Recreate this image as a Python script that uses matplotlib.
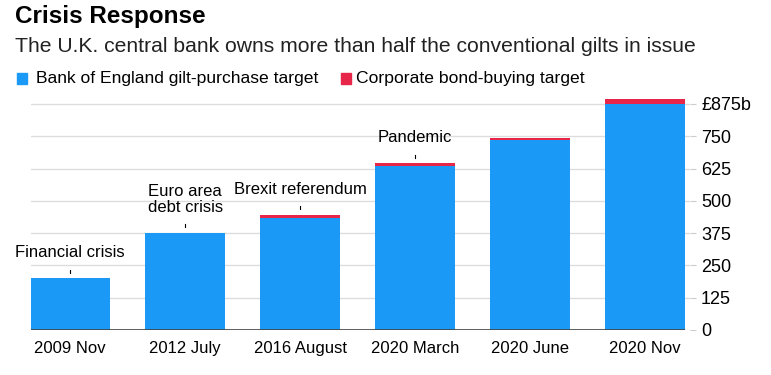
import matplotlib
matplotlib.use("Agg")
import matplotlib.pyplot as plt
import numpy as np

plt.rcParams["font.family"] = ["Liberation Sans", "DejaVu Sans"]

# data (billions of pounds)
dates = ["2009 Nov", "2012 July", "2016 August", "2020 March", "2020 June", "2020 Nov"]
gilt = [200, 375, 435, 635, 735, 875]
corp = [0, 0, 10, 10, 10, 20]
events = ["Financial crisis", "Euro area\ndebt crisis", "Brexit referendum", "Pandemic", None, None]
yticks = [0, 125, 250, 375, 500, 625, 750, 875]
ytick_labels = ["0", "125", "250", "375", "500", "625", "750", "£875b"]

BLUE = "#1a9af6"
RED = "#e8264a"

fig = plt.figure(figsize=(7.71, 3.75), dpi=100)
ax = fig.add_axes([31 / 771, 45 / 375, 659 / 771, 233 / 375])

x = np.arange(len(dates))
w = 0.7
ax.bar(x, gilt, width=w, color=BLUE, zorder=2)
ax.bar(x, corp, width=w, bottom=gilt, color=RED, zorder=2)

totals = np.array(gilt) + np.array(corp)
for xi, tot, ev in zip(x, totals, events):
    if ev is None:
        continue
    ax.plot([xi, xi], [tot + 22, tot + 34], color="black", lw=0.8, zorder=3)
    ax.annotate(ev, xy=(xi, tot), xytext=(0, 13), textcoords="offset points",
                ha="center", va="bottom", fontsize=12, linespacing=1.1)

ax.hlines(0, x[0] - w / 2, x[-1] + w / 2, color="#444444", lw=1.2, zorder=3)

ax.set_xlim(-0.34, len(dates) - 1 + 0.39)
ax.set_ylim(0, 902)
ax.set_xticks(x)
ax.set_xticklabels(dates, fontsize=12)
ax.tick_params(axis="x", length=0, pad=8)

ax.yaxis.tick_right()
ax.set_yticks(yticks)
ax.set_yticklabels(ytick_labels, fontsize=13)
ax.tick_params(axis="y", length=4, color="#cccccc", pad=4)
ax.grid(axis="y", color="#dddddd", lw=1, zorder=0)
for s in ax.spines.values():
    s.set_visible(False)

fig.text(15 / 771, 1 - 17 / 375, "Crisis Response", fontsize=17.5, fontweight="bold", va="center")
fig.text(15 / 771, 1 - 47 / 375, "The U.K. central bank owns more than half the conventional gilts in issue",
         fontsize=15.2, va="center", color="#222222")

# legend
fig.patches.append(plt.Rectangle((17 / 771, 1 - 84 / 375), 10 / 771, 11 / 375,
                                 transform=fig.transFigure, color=BLUE))
fig.text(36 / 771, 1 - 78 / 375, "Bank of England gilt-purchase target", fontsize=12.6, va="center")
fig.patches.append(plt.Rectangle((341 / 771, 1 - 84 / 375), 10 / 771, 11 / 375,
                                 transform=fig.transFigure, color=RED))
fig.text(356 / 771, 1 - 78 / 375, "Corporate bond-buying target", fontsize=12.6, va="center")

fig.savefig("out.png", dpi=100)
